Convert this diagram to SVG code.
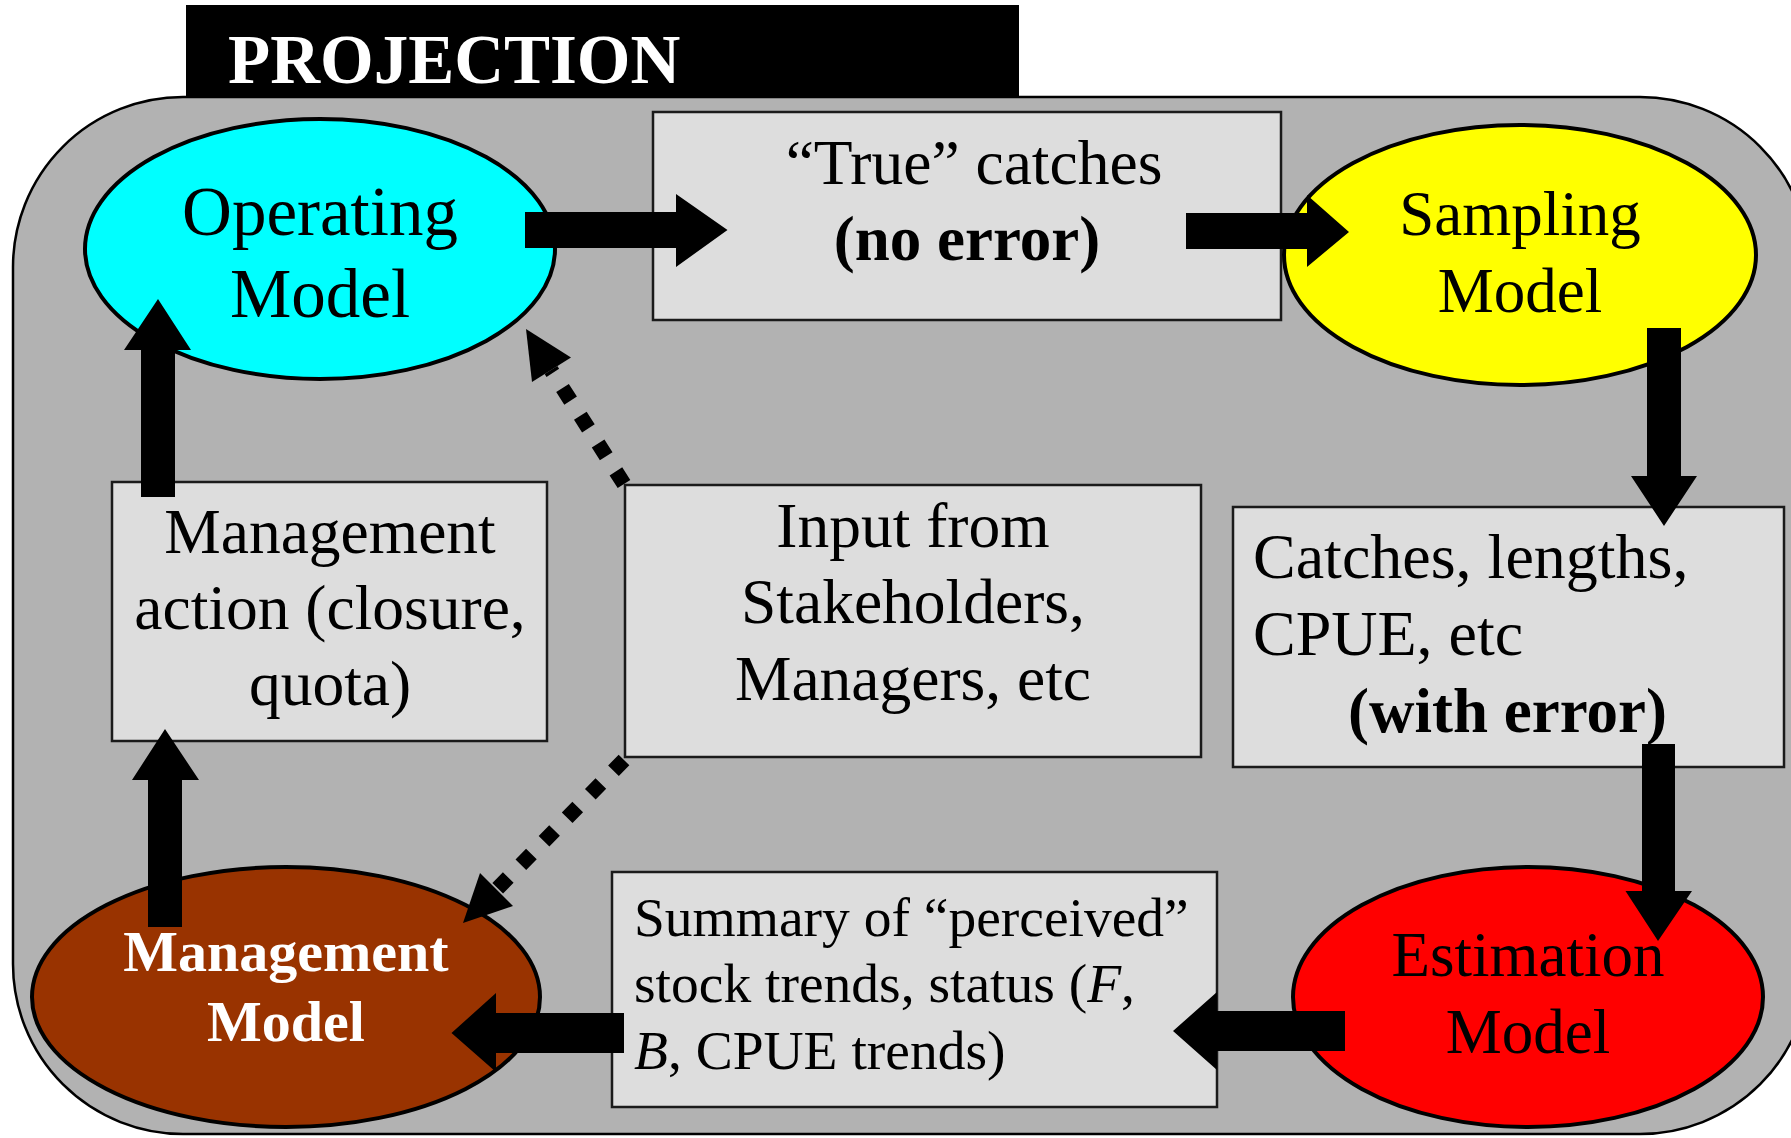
<svg xmlns="http://www.w3.org/2000/svg" width="1791" height="1138" viewBox="0 0 1791 1138">
  <style>
    .frame { fill:#b2b2b2; stroke:#000; stroke-width:2.5; }
    .box { fill:#dddddd; stroke:#1a1a1a; stroke-width:2.5; }
    .oval { stroke:#000; stroke-width:4; }
    .t { font-family:"Liberation Serif","Times New Roman",serif; fill:#000; }
    .mid { text-anchor:middle; }
    .b { font-weight:bold; }
    .i { font-style:italic; }
    .arrow { fill:#000; }
    .dots { fill:none; stroke:#000; stroke-width:15; stroke-dasharray:15 18; }
  </style>

  <!-- Title tab and enclosing projection frame -->
  <g id="frame">
    <rect x="186" y="5" width="833" height="92" fill="#000"/>
    <text class="t b" x="228" y="83" font-size="69" style="fill:#fff">PROJECTION</text>
    <rect class="frame" x="13" y="97" width="1797" height="1037" rx="170" ry="170"/>
  </g>

  <g id="operating-model">
    <ellipse class="oval" cx="320" cy="249" rx="235" ry="130" fill="#00ffff"/>
    <text class="t mid" font-size="69" x="320" y="235">Operating</text>
    <text class="t mid" font-size="69" x="320" y="317">Model</text>
  </g>

  <g id="true-catches">
    <rect class="box" x="653" y="112" width="628" height="208"/>
    <text class="t mid" font-size="63.5" x="974" y="184">“True” catches</text>
    <text class="t mid b" font-size="63" x="967" y="260">(no error)</text>
  </g>

  <g id="sampling-model">
    <ellipse class="oval" cx="1520" cy="255" rx="236" ry="130" fill="#ffff00"/>
    <text class="t mid" font-size="63" x="1520" y="235">Sampling</text>
    <text class="t mid" font-size="63" x="1520" y="312">Model</text>
  </g>

  <g id="management-action">
    <rect class="box" x="112" y="482" width="435" height="259"/>
    <text class="t mid" font-size="63.5" x="330" y="553">Management</text>
    <text class="t mid" font-size="63.5" x="330" y="629">action (closure,</text>
    <text class="t mid" font-size="63.5" x="330" y="705">quota)</text>
  </g>

  <g id="stakeholder-input">
    <rect class="box" x="625" y="485" width="576" height="272"/>
    <text class="t mid" font-size="63.5" x="913" y="547">Input from</text>
    <text class="t mid" font-size="63.5" x="913" y="623">Stakeholders,</text>
    <text class="t mid" font-size="63.5" x="913" y="700">Managers, etc</text>
  </g>

  <g id="observed-data">
    <rect class="box" x="1233" y="507" width="551" height="260"/>
    <text class="t" font-size="64" x="1253" y="578">Catches, lengths,</text>
    <text class="t" font-size="64" x="1253" y="655">CPUE, etc</text>
    <text class="t b" font-size="63" x="1348" y="732">(with error)</text>
  </g>

  <g id="estimation-model">
    <ellipse class="oval" cx="1528" cy="997" rx="235" ry="130" fill="#ff0000"/>
    <text class="t mid" font-size="63" x="1528" y="976">Estimation</text>
    <text class="t mid" font-size="63" x="1528" y="1053">Model</text>
  </g>

  <g id="stock-summary">
    <rect class="box" x="612" y="872" width="605" height="235"/>
    <text class="t" font-size="55.5" x="634" y="936">Summary of “perceived”</text>
    <text class="t" font-size="55.5" x="634" y="1002">stock trends, status (<tspan class="i">F</tspan>,</text>
    <text class="t" font-size="55.5" x="634" y="1069"><tspan class="i">B</tspan>, CPUE trends)</text>
  </g>

  <g id="management-model">
    <ellipse class="oval" cx="286" cy="997" rx="254" ry="130" fill="#993300"/>
    <text class="t mid b" font-size="58" x="286" y="971" style="fill:#fff">Management</text>
    <text class="t mid b" font-size="58" x="286" y="1041" style="fill:#fff">Model</text>
  </g>

  <!-- Block arrows and dotted influence arrows -->
  <g id="connectors">
    <path class="arrow" d="M525,212 H676 V194 L727.5,230 L676,267 V248 H525 Z"/>
    <path class="arrow" d="M1186,213 H1307 V195 L1349,232 L1307,267 V249 H1186 Z"/>
    <path class="arrow" d="M1647,328 H1681 V476 H1697 L1664,526 L1631,476 H1647 Z"/>
    <path class="arrow" d="M1642,744 H1675 V891 H1692 L1658,941 L1625.5,891 H1642 Z"/>
    <path class="arrow" d="M1345,1011 V1051 H1217 V1070 L1173,1031 L1217,992 V1011 Z"/>
    <path class="arrow" d="M624,1013 V1053 H496 V1072 L451.5,1033 L496,993 V1013 Z"/>
    <path class="arrow" d="M148,927 V780 H132 L165,729 L199,780 H182 V927 Z"/>
    <path class="arrow" d="M141,497 V350 H124 L158,299 L191,350 H175 V497 Z"/>

    <line class="dots" x1="624" y1="484" x2="551" y2="370"/>
    <polygon class="arrow" points="526,329 571,357.5 532,382"/>
    <line class="dots" x1="624" y1="760" x2="497" y2="889"/>
    <polygon class="arrow" points="463,923 480,873 513,906"/>
  </g>
</svg>
